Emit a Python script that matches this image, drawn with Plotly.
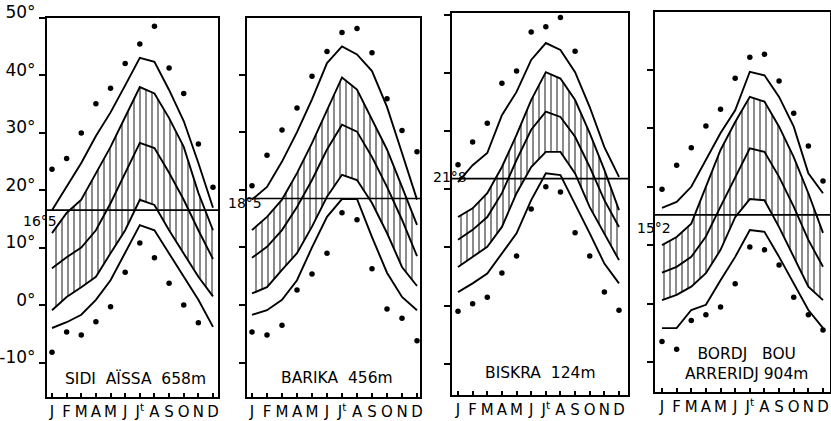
import plotly.graph_objects as go

# ---------------- data ----------------
months = ["J", "F", "M", "A", "M", "J", "J<sup>t</sup>", "A", "S", "O", "N", "D"]
stations = ["SIDI  AÏSSA  658m", "BARIKA  456m", "BISKRA  124m", "BORDJ   BOU<br>ARRERIDJ 904m"]
annual_mean = [16.5, 18.5, 21.8, 15.2]
annual_mean_labels = ["16°5", "18°5", "21°8", "15°2"]
y_tick_vals = [-10, 0, 10, 20, 30, 40, 50]
y_tick_text = ["-10°", "0°", "10°", "20°", "30°", "40°", "50°"]

# Sidi Aissa
rec_max_sa = [23.6, 25.5, 29.9, 35.0, 37.7, 42.0, 45.4, 48.5, 41.2, 36.8, 28.0, 20.5]
absmax_sa = [16.5, 20.5, 24.7, 29.4, 33.5, 38.2, 43.0, 42.3, 37.4, 32.0, 24.7, 16.9]
mmax_sa = [12.5, 16.0, 18.3, 23.0, 27.5, 32.7, 37.9, 36.8, 32.5, 27.5, 19.5, 13.0]
mean_sa = [6.4, 8.3, 10.0, 13.0, 17.7, 23.0, 28.2, 27.3, 23.0, 18.3, 13.0, 8.0]
mmin_sa = [-0.9, 1.4, 3.1, 4.9, 9.0, 13.0, 18.3, 17.4, 13.0, 9.0, 4.9, 1.5]
absmin_sa = [-4.0, -3.0, -1.7, 0.9, 4.3, 9.0, 13.9, 13.0, 9.0, 4.9, 0.9, -3.8]
rec_min_sa = [-8.2, -4.7, -5.2, -2.9, -0.3, 5.7, 10.8, 8.2, 3.8, 0.0, -3.1, None]

# Barika
rec_max_ba = [20.7, 26.0, 30.4, 34.2, 39.7, 44.0, 47.3, 48.0, 43.8, 35.8, 30.3, 26.6]
absmax_ba = [18.3, 20.5, 24.9, 30.0, 35.7, 42.0, 44.9, 43.5, 40.6, 34.4, 26.4, 18.3]
mmax_ba = [13.0, 15.3, 18.3, 22.9, 28.1, 33.9, 39.5, 37.4, 32.2, 27.0, 20.5, 13.9]
mean_ba = [8.2, 10.1, 13.0, 17.0, 21.7, 27.0, 31.3, 30.1, 25.7, 20.5, 14.8, 8.5]
mmin_ba = [2.0, 3.1, 6.1, 9.0, 13.6, 18.8, 22.6, 21.7, 17.7, 12.5, 6.6, 3.3]
absmin_ba = [-1.7, -0.9, 0.9, 4.3, 10.0, 15.3, 18.4, 18.4, 11.8, 5.6, 1.4, -0.9]
rec_min_ba = [-4.7, -5.2, -3.5, 2.6, 5.4, 9.0, 16.0, 14.8, 6.3, -0.7, -2.3, -6.2]

# Biskra
rec_max_bi = [24.2, 28.1, 31.3, 38.2, 40.3, 47.0, 47.9, 49.5, 43.7, None, None, None]
absmax_bi = [21.2, 24.1, 26.2, 32.7, 36.7, 42.2, 45.1, 43.9, 40.1, 34.1, 27.2, 22.1]
mmax_bi = [15.2, 16.7, 19.3, 23.8, 29.3, 35.3, 40.1, 39.0, 35.3, 29.6, 23.3, 16.4]
mean_bi = [11.3, 13.0, 15.2, 19.3, 25.0, 30.2, 33.3, 32.4, 29.0, 23.8, 18.1, 13.5]
mmin_bi = [6.6, 8.4, 10.1, 13.5, 19.3, 23.8, 26.4, 26.4, 22.7, 16.9, 12.4, 7.8]
absmin_bi = [2.3, 3.8, 5.5, 8.9, 12.4, 18.1, 22.7, 22.4, 17.5, 12.4, 7.2, 3.8]
rec_min_bi = [-1.0, 0.3, 1.4, 5.6, 8.5, 16.6, 20.4, 19.5, 12.5, 8.5, 2.3, -0.8]

# Bordj Bou Arreridj
rec_max_bo = [19.6, 23.7, 26.7, 30.4, 33.3, 38.6, 42.2, 42.7, 38.1, 32.6, 27.0, 21.0]
absmax_bo = [16.4, 17.4, 20.0, 24.6, 29.2, 33.1, 39.7, 39.1, 35.4, 30.3, 22.3, 18.9]
mmax_bo = [10.0, 11.4, 13.7, 20.0, 26.3, 31.1, 35.4, 34.6, 30.3, 25.1, 18.9, 12.1]
mean_bo = [5.3, 6.3, 8.0, 11.5, 16.6, 21.7, 26.6, 26.0, 21.7, 16.6, 10.9, 6.3]
mmin_bo = [0.6, 1.5, 2.9, 5.2, 9.2, 14.8, 17.9, 17.7, 13.1, 8.0, 2.9, 0.6]
absmin_bo = [-4.2, -4.2, -1.1, -0.2, 4.0, 8.0, 12.6, 12.3, 8.0, 3.5, -1.1, -4.2]
rec_min_bo = [-6.5, -7.8, -2.9, -1.9, -0.6, 3.4, 9.7, 9.2, 6.6, 1.1, -1.9, -4.5]

station_data = [
    (rec_max_sa, absmax_sa, mmax_sa, mean_sa, mmin_sa, absmin_sa, rec_min_sa),
    (rec_max_ba, absmax_ba, mmax_ba, mean_ba, mmin_ba, absmin_ba, rec_min_ba),
    (rec_max_bi, absmax_bi, mmax_bi, mean_bi, mmin_bi, absmin_bi, rec_min_bi),
    (rec_max_bo, absmax_bo, mmax_bo, mean_bo, mmin_bo, absmin_bo, rec_min_bo),
]

# ---------------- layout geometry (pixels) ----------------
W, H = 831, 421
# left, right, top, bottom, x of Jan, x of Dec, y of 0 deg, px per deg
geom = [
    (47, 218, 17.5, 397, 52, 213, 305.0, 5.75),
    (247, 420, 18, 397, 252, 417, 305.0, 5.76),
    (452, 628, 13, 395, 458, 619, 305.5, 5.82),
    (655, 830, 12, 392, 662, 823, 303.6, 5.84),
]
name_pos = [(135, 378), (337, 378), (540, 373), (746, 364)]
mean_lab_pos = [(40, 221), (245, 203), (450, 177), (654, 228)]

FONT = "DejaVu Sans"
LINE_W = 1.9

fig = go.Figure()
layout = dict(
    width=W, height=H, margin=dict(l=0, r=0, t=0, b=0, autoexpand=False),
    paper_bgcolor="white", plot_bgcolor="white", showlegend=False,
    font=dict(family=FONT, color="black"),
    annotations=[], shapes=[],
)

mx = list(range(12))
for i, (d, g) in enumerate(zip(station_data, geom)):
    n = "" if i == 0 else str(i + 1)
    xa, ya = "x" + n, "y" + n
    rec_max, absmax, mmax, mean, mmin, absmin, rec_min = d
    left, right, top, bottom, xj, xd, zero, s = g
    mpx = (xd - xj) / 11.0

    line = dict(color="black", width=LINE_W)
    fig.add_trace(go.Scatter(x=mx, y=absmax, mode="lines", line=line, xaxis=xa, yaxis=ya))
    fig.add_trace(go.Scatter(x=mx, y=absmin, mode="lines", line=line, xaxis=xa, yaxis=ya))
    fig.add_trace(go.Scatter(x=mx, y=mmin, mode="lines", line=line, xaxis=xa, yaxis=ya))
    fig.add_trace(go.Scatter(
        x=mx, y=mmax, mode="lines", line=line, xaxis=xa, yaxis=ya,
        fill="tonexty", fillcolor="rgba(0,0,0,0)",
        fillpattern=dict(shape="|", size=6, solidity=0.3, fgcolor="black",
                         bgcolor="rgba(255,255,255,0)"),
    ))
    fig.add_trace(go.Scatter(x=mx, y=mean, mode="lines", line=line, xaxis=xa, yaxis=ya))
    dot = dict(color="black", size=5.5)
    fig.add_trace(go.Scatter(x=mx, y=rec_max, mode="markers", marker=dot, xaxis=xa, yaxis=ya))
    fig.add_trace(go.Scatter(x=mx, y=rec_min, mode="markers", marker=dot, xaxis=xa, yaxis=ya))

    layout["xaxis" + n] = dict(
        domain=[left / W, right / W], anchor=ya, automargin=False,
        range=[(left - xj) / mpx, 11 + (right - xd) / mpx],
        tickvals=mx, ticktext=months, ticks="inside", ticklen=4, tickwidth=1.5,
        tickcolor="black", showline=True, mirror=True, linecolor="black", linewidth=2,
        showgrid=False, zeroline=False, tickfont=dict(family=FONT, size=15, color="black"),
        fixedrange=True,
    )
    layout["yaxis" + n] = dict(
        domain=[1 - bottom / H, 1 - top / H], anchor=xa, automargin=False,
        range=[(zero - bottom) / s, (zero - top) / s],
        tickvals=y_tick_vals, ticktext=y_tick_text, showticklabels=(i == 0),
        ticks="outside", ticklen=6, tickwidth=1.5, tickcolor="black",
        showline=True, mirror=True, linecolor="black", linewidth=2,
        showgrid=False, zeroline=False, ticklabelshift=-5,
        tickfont=dict(family=FONT, size=17, color="black"),
        fixedrange=True,
    )
    layout["shapes"].append(dict(
        type="line", xref=xa + " domain", yref=ya, x0=0, x1=1,
        y0=annual_mean[i], y1=annual_mean[i], line=dict(color="black", width=1.6),
    ))
    lx, ly = mean_lab_pos[i]
    layout["annotations"].append(dict(
        x=lx / W, y=1 - ly / H, xref="paper", yref="paper", text=annual_mean_labels[i],
        xanchor="center", yanchor="middle",
        showarrow=False, font=dict(family=FONT, size=14, color="black"),
    ))
    nx, ny = name_pos[i]
    layout["annotations"].append(dict(
        x=nx / W, y=1 - ny / H, xref="paper", yref="paper", text=stations[i],
        xanchor="center", yanchor="middle",
        showarrow=False, font=dict(family=FONT, size=15.5, color="black"),
    ))

fig.update_layout(**layout)
fig.write_html(
    "out.html",
    config={"displayModeBar": False},
    post_script="document.body.style.margin='0';document.body.style.overflow='hidden';",
)
